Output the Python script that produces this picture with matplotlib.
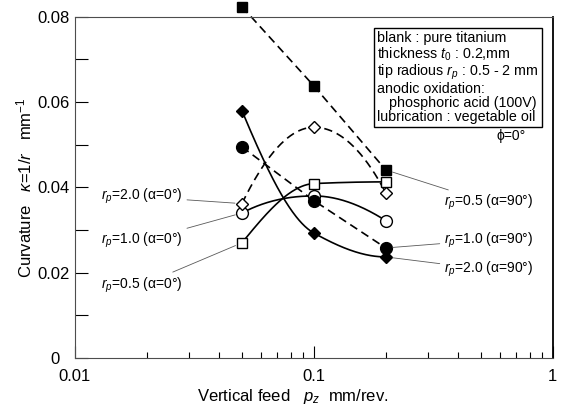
import numpy as np
import matplotlib
matplotlib.use('Agg')
import matplotlib.pyplot as plt
from matplotlib.transforms import ScaledTranslation

plt.rcParams['font.family'] = ['Liberation Sans', 'DejaVu Sans']
plt.rcParams['mathtext.fontset'] = 'custom'
plt.rcParams['mathtext.rm'] = 'Liberation Sans'
plt.rcParams['mathtext.it'] = 'Liberation Sans:italic'

# data (feed mm/rev, curvature 1/mm)
feed = [0.05, 0.1, 0.2]
open_sq_05 = [0.0270, 0.0409, 0.0413]     # rp=0.5 alpha=0
open_ci_10 = [0.0340, 0.0380, 0.0322]     # rp=1.0 alpha=0
open_di_20 = [0.0362, 0.0541, 0.0387]     # rp=2.0 alpha=0
fill_sq_05 = [0.0824, 0.0638, 0.0441]     # rp=0.5 alpha=90
fill_ci_10 = [0.0495, 0.0369, 0.0258]     # rp=1.0 alpha=90
fill_di_20 = [0.0580, 0.0293, 0.0237]     # rp=2.0 alpha=90

left_labels = [r'$r_p$=2.0 (α=0°)', r'$r_p$=1.0 (α=0°)', r'$r_p$=0.5 (α=0°)']
right_labels = [r'$r_p$=0.5 (α=90°)', r'$r_p$=1.0 (α=90°)', r'$r_p$=2.0 (α=90°)']

box_lines = ['blank : pure titanium',
             r'thickness $t_0$ : 0.2,mm',
             r'tip radious $r_p$ : 0.5 - 2 mm',
             'anodic oxidation:',
             '   phosphoric acid (100V)',
             'lubrication : vegetable oil']


def pchip(x, y, xs):
    x = np.asarray(x, float)
    y = np.asarray(y, float)
    h = np.diff(x)
    d = np.diff(y) / h
    n = len(x)
    m = np.zeros(n)
    for k in range(1, n - 1):
        if d[k - 1] * d[k] > 0:
            w1 = 2 * h[k] + h[k - 1]
            w2 = h[k] + 2 * h[k - 1]
            m[k] = (w1 + w2) / (w1 / d[k - 1] + w2 / d[k])
    for i, (a, b, ha, hb) in enumerate([(d[0], d[1], h[0], h[1]), (d[-1], d[-2], h[-1], h[-2])]):
        s = ((2 * ha + hb) * a - ha * b) / (ha + hb)
        if np.sign(s) != np.sign(a):
            s = 0.0
        elif np.sign(a) != np.sign(b) and abs(s) > abs(3 * a):
            s = 3 * a
        m[0 if i == 0 else -1] = s
    idx = np.clip(np.searchsorted(x, xs) - 1, 0, n - 2)
    t = (xs - x[idx]) / h[idx]
    h00 = 2 * t**3 - 3 * t**2 + 1
    h10 = t**3 - 2 * t**2 + t
    h01 = -2 * t**3 + 3 * t**2
    h11 = t**3 - t**2
    return h00 * y[idx] + h10 * h[idx] * m[idx] + h01 * y[idx + 1] + h11 * h[idx] * m[idx + 1]


def smooth(ax, xv, yv, ls):
    lx = np.log10(xv)
    xs = np.linspace(lx[0], lx[-1], 200)
    ax.plot(10**xs, pchip(lx, yv, xs), color='black', lw=1.2, ls=ls, zorder=2)


fig = plt.figure(figsize=(5.63, 4.11), dpi=100)
ax = fig.add_axes([0.133, 0.129, 0.849, 0.830])

dash = (0, (5, 3))
smooth(ax, feed, open_di_20, dash)
smooth(ax, feed, open_ci_10, '-')
smooth(ax, feed, open_sq_05, '-')
smooth(ax, feed, fill_di_20, '-')
ax.plot(feed, fill_ci_10, color='black', lw=1.2, ls=dash, zorder=2)
ax.plot(feed, fill_sq_05, color='black', lw=1.2, ls=dash, zorder=2, clip_on=False)

mk = dict(ls='none', mec='black', mew=1.0, zorder=3, clip_on=False)
ax.plot(feed, open_sq_05, marker='s', ms=7.5, mfc='white', **mk)
ax.plot(feed, open_ci_10, marker='o', ms=8.5, mfc='white', **mk)
ax.plot(feed, open_di_20, marker='D', ms=6.5, mfc='white', **mk)
ax.plot(feed, fill_sq_05, marker='s', ms=7.5, mfc='black', **mk)
ax.plot(feed, fill_ci_10, marker='o', ms=8.5, mfc='black', **mk)
ax.plot(feed, fill_di_20, marker='D', ms=6.5, mfc='black', **mk)

# leader-line labels
lead = dict(arrowstyle='-', lw=0.6, color='0.35', shrinkA=1, shrinkB=5)
left_targets = [open_di_20[0], open_ci_10[0], open_sq_05[0]]
left_y = [0.0378, 0.0275, 0.0171]
for lab, ty, ly in zip(left_labels, left_targets, left_y):
    ax.annotate(lab, xy=(feed[0], ty), xytext=(0.0283, ly), ha='right', va='center',
                fontsize=10, arrowprops=lead)
right_targets = [fill_sq_05[-1], fill_ci_10[-1], fill_di_20[-1]]
right_y = [0.0364, 0.0277, 0.0207]
for lab, ty, ly in zip(right_labels, right_targets, right_y):
    ax.annotate(lab, xy=(feed[-1], ty), xytext=(0.35, ly), ha='left', va='center',
                fontsize=10, arrowprops=lead)

ax.text(0.633, 0.958, '\n'.join(box_lines), transform=ax.transAxes, ha='left', va='top',
        fontsize=10.3, linespacing=1.0,
        bbox=dict(boxstyle='square,pad=0.25', fc='white', ec='black', lw=1.0))
ax.text(0.883, 0.652, 'ϕ=0°', transform=ax.transAxes, ha='left', va='center', fontsize=10)

ax.set_xscale('log')
ax.set_xlim(0.01, 1)
ax.set_ylim(0, 0.08)
ax.set_xticks([0.01, 0.1, 1])
ax.set_xticklabels(['0.01', '0.1', '1'])
ax.set_yticks([0, 0.02, 0.04, 0.06, 0.08])
ax.set_yticklabels(['0', '0.02', '0.04', '0.06', '0.08'])
ax.set_yticks([0.01, 0.03, 0.05, 0.07], minor=True)
ax.tick_params(which='both', direction='in', top=False, right=False, labelsize=12)
ax.tick_params(axis='y', which='both', length=9, width=0.8, pad=4)
ax.tick_params(axis='x', which='major', length=9, width=0.8, pad=8)
ax.tick_params(axis='x', which='minor', length=4, width=0.8)

# the "0" label sits a bit left of the others
zero = ax.get_yticklabels()[0]
zero.set_transform(zero.get_transform() + ScaledTranslation(-0.1, 0, fig.dpi_scale_trans))

for side in ['left', 'bottom', 'top']:
    ax.spines[side].set_color('0.3')
    ax.spines[side].set_linewidth(0.8)
ax.spines['right'].set_color('black')
ax.spines['right'].set_linewidth(1.3)

ax.set_ylabel(r'Curvature   $\kappa$=1/$r$   mm$^{-1}$', fontsize=12, labelpad=2)
ax.set_xlabel(r'Vertical feed   $p_z$  mm/rev.', fontsize=12)
ax.xaxis.set_label_coords(0.456, -0.085)

fig.savefig('out.png', dpi=100)
